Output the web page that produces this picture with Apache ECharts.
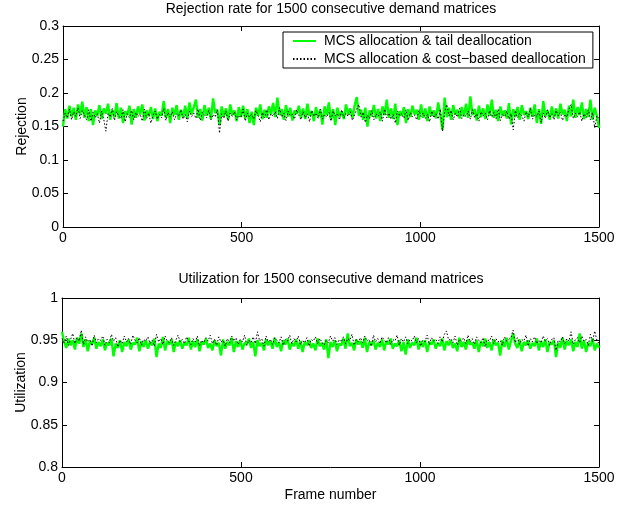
<!DOCTYPE html>
<html>
<head>
<meta charset="utf-8">
<script src="https://cdn.jsdelivr.net/npm/echarts@6/dist/echarts.min.js"></script>
<style>
html,body{margin:0;padding:0;background:#fff;}
#chart{width:632px;height:508px;}
</style>
</head>
<body>
<div id="chart"></div>
<script>
// Frame sampling step (every 6th frame)
const frameStep = 6;

// Rejection rate: MCS allocation & tail deallocation
const rejTail = [
.150,.176,.162,.181,.165,.178,.160,.183,.168,.187,
.163,.179,.158,.176,.152,.174,.166,.182,.161,.177,
.169,.184,.160,.175,.164,.185,.162,.178,.155,.173,
.167,.181,.153,.176,.163,.180,.168,.183,.159,.174,
.165,.179,.161,.177,.158,.172,.166,.188,.163,.176,
.155,.178,.167,.182,.160,.175,.164,.181,.162,.186,
.168,.179,.190,.163,.176,.159,.182,.166,.178,.161,
.192,.170,.175,.152,.180,.165,.177,.160,.183,.167,
.174,.158,.179,.164,.181,.162,.176,.155,.172,.152,
.178,.166,.183,.161,.175,.163,.180,.168,.185,.164,
.193,.167,.176,.160,.182,.165,.178,.159,.174,.169,
.181,.163,.177,.161,.184,.166,.173,.158,.179,.164,
.175,.153,.180,.167,.186,.160,.176,.152,.178,.165,
.172,.161,.183,.168,.177,.163,.181,.194,.166,.175,
.160,.178,.150,.174,.165,.182,.162,.176,.158,.180,
.167,.190,.163,.177,.161,.184,.152,.173,.166,.179,
.155,.176,.164,.181,.168,.175,.160,.183,.163,.177,
.158,.180,.166,.174,.162,.186,.167,.145,.193,.164,
.178,.160,.182,.168,.175,.162,.179,.165,.184,.163,
.195,.167,.176,.159,.181,.164,.177,.161,.183,.166,
.190,.163,.175,.158,.180,.166,.174,.162,.185,.153,
.176,.164,.179,.160,.182,.167,.173,.161,.178,.165,
.183,.155,.176,.154,.188,.166,.174,.160,.180,.164,
.177,.162,.184,.168,.175,.158,.181,.165,.190,.163,
.179,.167,.186,.161,.176,.164,.190,.160,.178,.166,
.148
];

// Rejection rate: MCS allocation & cost-based deallocation
const rejCost = [
.158,.170,.163,.176,.160,.172,.165,.178,.162,.174,
.167,.160,.175,.158,.171,.163,.169,.155,.173,.161,
.143,.170,.164,.177,.159,.172,.166,.162,.175,.157,
.169,.163,.174,.160,.171,.165,.168,.158,.176,.162,
.170,.155,.167,.173,.161,.168,.163,.177,.159,.171,
.164,.172,.160,.169,.166,.175,.161,.168,.157,.173,
.165,.170,.162,.176,.159,.171,.167,.163,.174,.160,
.168,.164,.175,.140,.169,.162,.173,.158,.170,.165,
.172,.160,.167,.163,.176,.158,.170,.164,.168,.161,
.174,.166,.157,.171,.163,.175,.160,.169,.165,.172,
.162,.178,.164,.170,.159,.173,.166,.168,.161,.175,
.167,.160,.172,.163,.169,.157,.174,.165,.170,.162,
.176,.161,.168,.164,.171,.158,.173,.166,.169,.160,
.175,.163,.170,.165,.172,.159,.168,.176,.183,.164,
.171,.156,.167,.162,.174,.160,.169,.165,.172,.158,
.176,.163,.170,.161,.168,.155,.173,.166,.169,.162,
.175,.159,.171,.164,.167,.160,.174,.165,.170,.162,
.168,.157,.173,.163,.169,.161,.176,.143,.171,.183,
.166,.174,.160,.170,.164,.177,.162,.168,.165,.173,
.161,.175,.163,.169,.158,.172,.166,.170,.160,.174,
.164,.171,.162,.176,.159,.168,.165,.173,.161,.169,
.145,.174,.163,.170,.166,.158,.172,.164,.177,.161,
.168,.165,.173,.156,.170,.162,.175,.163,.169,.160,
.174,.166,.171,.159,.168,.164,.176,.183,.162,.170,
.165,.172,.158,.169,.163,.175,.160,.171,.148,.166,
.162
];

// Utilization: MCS allocation & tail deallocation
const utilTail = [
.960,.948,.941,.952,.944,.950,.939,.953,.946,.958,
.942,.951,.937,.949,.945,.953,.940,.948,.943,.951,
.938,.947,.944,.952,.931,.946,.941,.950,.936,.948,
.943,.951,.939,.947,.945,.953,.937,.949,.942,.950,
.940,.948,.944,.952,.930,.946,.941,.954,.938,.949,
.945,.951,.936,.948,.943,.950,.940,.947,.944,.953,
.939,.949,.942,.951,.937,.948,.945,.952,.941,.946,
.938,.950,.943,.947,.932,.951,.940,.948,.944,.953,
.936,.949,.942,.950,.939,.947,.945,.952,.941,.948,
.931,.950,.943,.947,.938,.951,.944,.949,.940,.953,
.942,.948,.937,.950,.945,.952,.939,.947,.943,.951,
.940,.949,.936,.948,.944,.950,.941,.946,.938,.952,
.943,.947,.939,.951,.929,.948,.942,.950,.937,.946,
.944,.952,.940,.958,.943,.947,.938,.951,.945,.949,
.941,.953,.936,.948,.944,.950,.939,.947,.942,.951,
.938,.949,.945,.952,.940,.946,.943,.950,.937,.948,
.933,.951,.941,.947,.944,.953,.939,.949,.942,.950,
.936,.948,.945,.951,.940,.947,.943,.952,.938,.949,
.944,.950,.941,.946,.937,.953,.942,.948,.939,.951,
.945,.947,.940,.950,.936,.949,.943,.952,.941,.948,
.938,.951,.944,.947,.932,.950,.942,.953,.939,.949,
.958,.946,.941,.951,.937,.948,.944,.950,.940,.947,
.943,.952,.938,.949,.942,.951,.936,.948,.945,.950,
.930,.947,.941,.953,.939,.949,.944,.951,.937,.948,
.942,.958,.940,.950,.936,.947,.943,.952,.938,.946,
.941
];

// Utilization: MCS allocation & cost-based deallocation
const utilCost = [
.952,.947,.955,.944,.951,.958,.946,.953,.949,.962,
.945,.954,.948,.951,.943,.956,.947,.952,.950,.955,
.944,.951,.947,.957,.949,.953,.942,.950,.946,.955,
.948,.952,.945,.956,.950,.947,.953,.944,.951,.949,
.954,.946,.950,.943,.957,.948,.952,.945,.955,.949,
.947,.953,.944,.950,.956,.948,.951,.946,.954,.949,
.945,.952,.948,.955,.943,.950,.947,.953,.949,.956,
.946,.951,.944,.954,.948,.950,.943,.952,.947,.955,
.949,.953,.945,.951,.948,.956,.944,.950,.947,.954,
.946,.960,.949,.952,.943,.955,.948,.951,.945,.953,
.950,.947,.954,.944,.951,.949,.956,.946,.952,.948,
.955,.945,.950,.947,.953,.943,.951,.949,.954,.946,
.952,.948,.944,.950,.947,.955,.949,.953,.945,.951,
.948,.954,.946,.952,.950,.957,.944,.951,.948,.953,
.947,.955,.949,.951,.943,.956,.948,.952,.946,.954,
.950,.947,.953,.945,.951,.949,.956,.944,.952,.948,
.954,.946,.951,.949,.955,.947,.952,.943,.950,.948,
.956,.945,.953,.949,.951,.946,.954,.948,.957,.961,
.950,.952,.947,.955,.944,.951,.949,.953,.946,.956,
.948,.952,.945,.954,.950,.947,.953,.942,.951,.949,
.955,.946,.952,.948,.950,.944,.954,.949,.951,.953,
.962,.947,.953,.945,.951,.949,.956,.943,.952,.948,
.954,.946,.950,.947,.955,.949,.952,.944,.951,.953,
.938,.950,.948,.954,.946,.952,.949,.960,.945,.951,
.953,.947,.955,.949,.951,.944,.957,.948,.961,.950,
.946
];

const seriesNames = ['MCS allocation & tail deallocation', 'MCS allocation & cost\u2212based deallocation'];
const titles = ['Rejection rate for 1500 consecutive demand matrices', 'Utilization for 1500 consecutive demand matrices'];
const yNames = ['Rejection', 'Utilization'];
const xName = 'Frame number';

const FONT = '"Liberation Sans", Arial, Helvetica, sans-serif';
const FS = 14;
const pairs = arr => arr.map((v, i) => [i * frameStep, v]);

const baseAxis = {
  axisLine: { show: true, onZero: false, lineStyle: { color: '#000', width: 1 } },
  axisTick: { show: true, inside: true, length: 5, lineStyle: { color: '#000' } },
  splitLine: { show: false },
  axisLabel: { color: '#000', fontFamily: FONT, fontSize: FS, margin: 4, formatter: v => String(+v.toFixed(2)) }
};
function ax(extra) {
  const a = {
    axisLine: JSON.parse(JSON.stringify(baseAxis.axisLine)),
    axisTick: JSON.parse(JSON.stringify(baseAxis.axisTick)),
    splitLine: { show: false },
    axisLabel: Object.assign({}, baseAxis.axisLabel)
  };
  return Object.assign(a, extra);
}
const noLabel = { axisLabel: { show: false } };

const grids = [
  { left: 63, right: 33, top: 26, height: 201 },
  { left: 62, right: 33, top: 298, height: 169 }
];

const xAxes = [];
const yAxes = [];
[[0, 0.3], [0.8, 1]].forEach((r, g) => {
  xAxes.push(ax({ gridIndex: g, type: 'value', min: 0, max: 1500, interval: 500, position: 'bottom',
    name: g === 1 ? xName : '', nameLocation: 'middle', nameGap: 21, nameMoveOverlap: false,
    nameTextStyle: { color: '#000', fontFamily: FONT, fontSize: FS } }));
  xAxes.push(Object.assign(ax({ gridIndex: g, type: 'value', min: 0, max: 1500, interval: 500, position: 'top' }), noLabel));
  yAxes.push(ax({ gridIndex: g, type: 'value', min: r[0], max: r[1], interval: 0.05, position: 'left',
    name: yNames[g], nameLocation: 'middle', nameGap: 34, nameMoveOverlap: false,
    nameTextStyle: { color: '#000', fontFamily: FONT, fontSize: FS } }));
  yAxes.push(Object.assign(ax({ gridIndex: g, type: 'value', min: r[0], max: r[1], interval: 0.05, position: 'right' }), noLabel));
});

const greenStyle = { color: '#00ff00', width: 2.4, type: 'solid' };
const blackStyle = { color: '#000', width: 1, type: [1.5, 2] };

const option = {
  animation: false,
  backgroundColor: '#fff',
  title: [
    { text: titles[0], left: 331, top: 2, padding: 0, textAlign: 'center',
      textStyle: { fontFamily: FONT, fontSize: FS, fontWeight: 'normal', color: '#000' } },
    { text: titles[1], left: 331, top: 272, padding: 0, textAlign: 'center',
      textStyle: { fontFamily: FONT, fontSize: FS, fontWeight: 'normal', color: '#000' } }
  ],
  legend: {
    data: seriesNames,
    orient: 'vertical',
    left: 283, top: 32,
    itemWidth: 23, itemHeight: 10, itemGap: 4,
    padding: [2, 7, 2, 9],
    borderColor: '#000', borderWidth: 1, backgroundColor: '#fff',
    itemStyle: { opacity: 0 },
    textStyle: { fontFamily: FONT, fontSize: FS, color: '#000', padding: [0, 0, 0, 3] },
    selectedMode: false
  },
  grid: grids,
  xAxis: xAxes,
  yAxis: yAxes,
  series: [
    { name: seriesNames[0], type: 'line', xAxisIndex: 0, yAxisIndex: 0, data: pairs(rejTail),
      showSymbol: false, symbol: 'none', lineStyle: greenStyle, itemStyle: { color: '#00ff00' } },
    { name: seriesNames[1], type: 'line', xAxisIndex: 0, yAxisIndex: 0, data: pairs(rejCost),
      showSymbol: false, symbol: 'none', lineStyle: blackStyle, itemStyle: { color: '#000' } },
    { name: seriesNames[0], type: 'line', xAxisIndex: 2, yAxisIndex: 2, data: pairs(utilTail),
      showSymbol: false, symbol: 'none', lineStyle: greenStyle, itemStyle: { color: '#00ff00' } },
    { name: seriesNames[1], type: 'line', xAxisIndex: 2, yAxisIndex: 2, data: pairs(utilCost),
      showSymbol: false, symbol: 'none', lineStyle: blackStyle, itemStyle: { color: '#000' } }
  ]
};

const chart = echarts.init(document.getElementById('chart'), null, { renderer: 'canvas' });
chart.setOption(option);
</script>
</body>
</html>
